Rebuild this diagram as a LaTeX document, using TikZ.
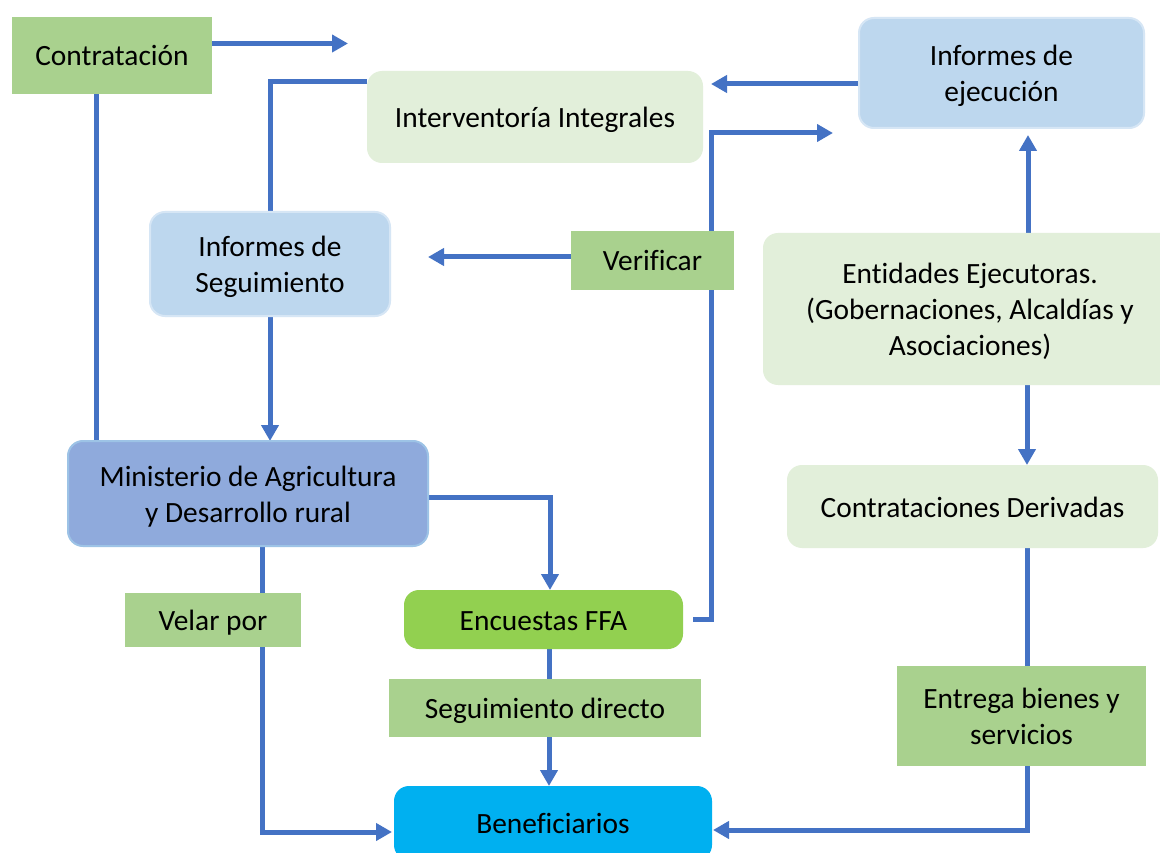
\documentclass[tikz,border=0pt]{standalone}
\usepackage{fontspec}
\setmainfont{Carlito}[Ligatures=NoCommon]
\usetikzlibrary{arrows.meta,backgrounds}
\definecolor{lbl}{HTML}{A9D18E}
\definecolor{lgreen}{HTML}{E2EFDA}
\definecolor{lblue}{HTML}{BDD7EE}
\definecolor{lblueb}{HTML}{D6E6F5}
\definecolor{mblue}{HTML}{8FAADC}
\definecolor{mblueb}{HTML}{9DC3E6}
\definecolor{ffa}{HTML}{92D050}
\definecolor{benc}{HTML}{00B0F0}
\definecolor{arrc}{HTML}{4472C4}
\newcommand\fsz{\fontsize{29.4}{36}\selectfont}
\newcommand\sth{\rule{0pt}{30pt}}
\newcommand\std{\rule[-9pt]{0pt}{9pt}}
\begin{document}
\begin{tikzpicture}[x=1pt,y=-1pt,
  base/.style={align=center, inner sep=0pt, outer sep=0pt, font=\fsz, text=black},
  rbox/.style={base, rounded corners=15pt},
  lab/.style={base, fill=lbl},
  ln/.style={draw=arrc, line width=5pt},
  arr/.style={ln, -{Triangle[length=16pt,width=17pt]}}]
\clip (0,0) rectangle (1160,853);

% nodes
\node[lab, minimum width=200pt, minimum height=77pt] (contr) at (112,55.5) {\sth\std Contratación};
\node[rbox, fill=lgreen, minimum width=336pt, minimum height=92pt] (interv) at (535,117) {\sth\std Interventoría Integrales};
\node[rbox, fill=lblue, draw=lblueb, line width=2pt, minimum width=285pt, minimum height=110pt] (infeje) at (1001.5,73) {\sth Informes de\\\std ejecución};
\node[rbox, fill=lblue, draw=lblueb, line width=2pt, minimum width=240pt, minimum height=104pt] (infseg) at (270,264) {\sth Informes de\\\std Seguimiento};
\node[lab, minimum width=163pt, minimum height=59pt] (verif) at (652.5,260.5) {\sth\std Verificar};
\node[rbox, fill=lgreen, minimum width=414pt, minimum height=152pt] (entid) at (970,309) {\sth Entidades Ejecutoras.\\(Gobernaciones, Alcaldías y\\\std Asociaciones)};
\node[rbox, fill=lgreen, minimum width=371pt, minimum height=83pt] (contder) at (972.5,506.5) {\sth\std Contrataciones Derivadas};
\node[lab, minimum width=249pt, minimum height=100pt] (entrega) at (1021.5,716) {\sth Entrega bienes y\\\std servicios};
\node[rbox, fill=benc, minimum width=318pt, minimum height=74pt] (benef) at (553,823) {\sth\std Beneficiarios};
\node[rbox, fill=mblue, draw=mblueb, line width=2pt, minimum width=360pt, minimum height=105pt] (minist) at (248,493.5) {\sth Ministerio de Agricultura\\\std y Desarrollo rural};
\node[rbox, fill=ffa, minimum width=279pt, minimum height=59pt] (encu) at (543.5,619.5) {\sth\std Encuestas FFA};
\node[lab, minimum width=312pt, minimum height=58pt] (segdir) at (545,708) {\sth\std Seguimiento directo};
\node[lab, minimum width=176pt, minimum height=54pt] (velar) at (213,620) {\sth\std Velar por};

% free ends
\coordinate (t0) at (348,43.5);
\coordinate (t1) at (711,84);
\coordinate (t2) at (428,257);
\coordinate (t3) at (833,133);
\coordinate (t4) at (1028,135);
\coordinate (t5) at (713,830);
\coordinate (t6) at (392,832);

\begin{scope}[on background layer]
\fill[white] (0,0) rectangle (1160,853);
\draw[arr] (contr.east |- t0) -- (t0);
\draw[ln] (contr.south -| 96,0) -- (minist.north -| 96,0);
\draw[ln] ([yshift=35pt]interv.west) -| (infseg.north);
\draw[arr] (infeje.west |- t1) -- (t1);
\draw[arr] (infseg.south) -- (infseg.south |- minist.north);
\draw[arr] (verif.west |- t2) -- (t2);
\draw[arr] ([xshift=10pt]encu.east) -- ++(18,0) |- (t3);
\draw[arr] (entid.north -| t4) -- (t4);
\draw[arr] (entid.south -| 1027,0) -- (contder.north -| 1027,0);
\draw[ln] (contder.south -| 1027,0) -- (entrega.north -| 1027,0);
\draw[arr] (entrega.south -| 1027,0) |- (t5);
\draw[arr] ([yshift=-3.5pt]minist.east) -| (encu.north -| 550,0);
\draw[ln] (encu.south -| 549,0) -- (segdir.north -| 549,0);
\draw[arr] (segdir.south -| 549,0) -- (benef.north -| 549,0);
\draw[ln] (minist.south -| 262,0) -- (velar.north -| 262,0);
\draw[arr] (velar.south -| 262,0) |- (t6);
\end{scope}
\end{tikzpicture}
\end{document}
